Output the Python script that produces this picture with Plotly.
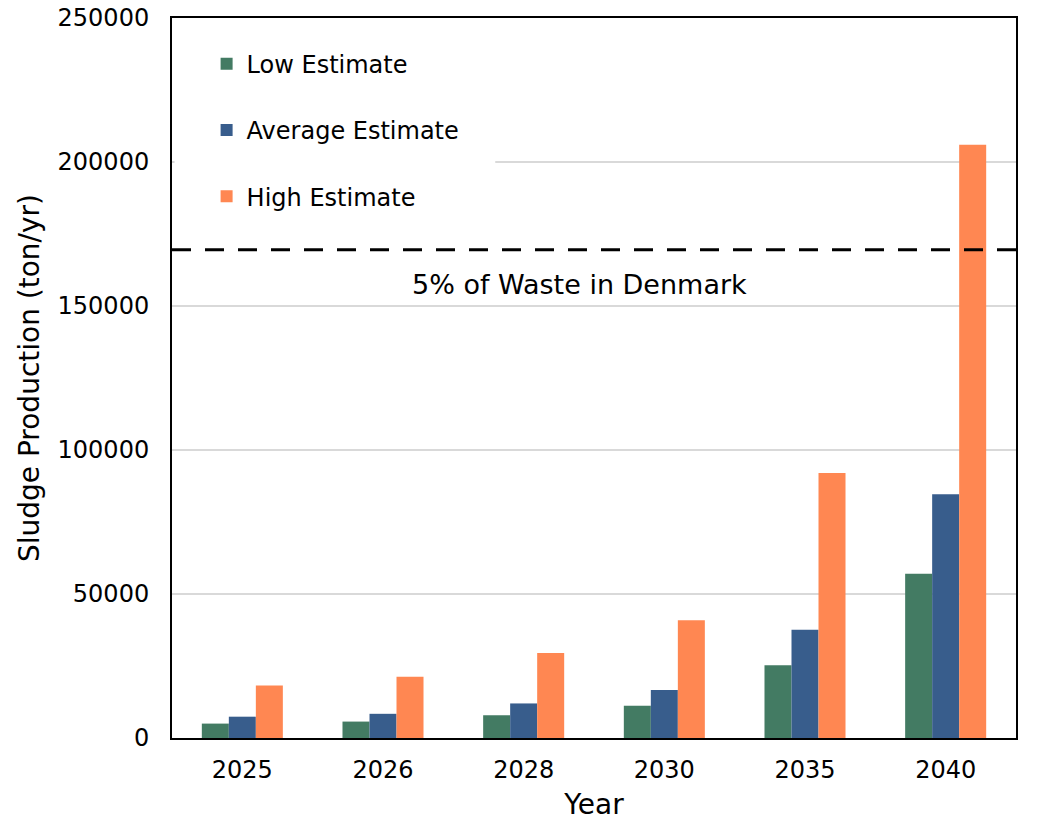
import plotly.graph_objects as go

# Projected sludge production per year (ton/yr)
years = ["2025", "2026", "2028", "2030", "2035", "2040"]
low_estimate = [5000, 5700, 7900, 11200, 25300, 57000]
average_estimate = [7400, 8400, 12000, 16700, 37600, 84600]
high_estimate = [18200, 21300, 29500, 40900, 92000, 206000]

# Reference level: 5% of total waste in Denmark
waste_5pct = 169500
waste_label = "5% of Waste in Denmark"

series = [
    ("Low Estimate", low_estimate, "#437B63"),
    ("Average Estimate", average_estimate, "#385D8C"),
    ("High Estimate", high_estimate, "#FF8752"),
]

FONT = "DejaVu Sans, Verdana, sans-serif"

fig = go.Figure()
for i, (name, vals, color) in enumerate(series):
    fig.add_trace(go.Bar(
        x=years, y=vals, name=name,
        marker=dict(color=color, line=dict(width=0)),
        legendgroup=f"g{i}",
    ))

# White backing panel of the legend box (hides the gridline under it)
fig.add_shape(
    type="rect", xref="x domain", yref="y",
    x0=0.003, x1=0.383, y0=190000, y1=235000,
    fillcolor="white", line=dict(width=0),
    layer="above",
)

fig.add_shape(
    type="line", xref="paper", yref="y",
    x0=0, x1=1, y0=waste_5pct, y1=waste_5pct,
    line=dict(color="black", width=3, dash="19px,14px"),
    layer="above",
)

fig.add_annotation(
    xref="paper", yref="y", x=0.483, y=157300,
    text=waste_label, showarrow=False,
    font=dict(family=FONT, size=27, color="black"),
)

fig.update_layout(
    width=1040, height=822,
    margin=dict(l=172, r=24, t=18, b=84, autoexpand=False),
    paper_bgcolor="white", plot_bgcolor="white",
    font=dict(family=FONT, size=24, color="black"),
    barmode="group", bargap=0.424, bargroupgap=0,
    showlegend=True,
    legend=dict(
        x=0.041, y=0.967, xanchor="left", yanchor="top",
        bgcolor="white", borderwidth=0,
        traceorder="grouped", tracegroupgap=32,
        font=dict(family=FONT, size=24, color="black"),
    ),
)

fig.update_xaxes(
    title=dict(text="Year", font=dict(size=28), standoff=12),
    showline=True, linecolor="black", linewidth=2, mirror=True,
    ticks="", ticklabelstandoff=9, automargin=False,
    tickfont=dict(size=24),
)
fig.update_yaxes(
    title=dict(text="Sludge Production (ton/yr)", font=dict(size=28), standoff=10),
    range=[0, 250000], dtick=50000, tickformat="d",
    showgrid=True, gridcolor="#d9d9d9", gridwidth=1.5,
    showline=True, linecolor="black", linewidth=2, mirror=True,
    zeroline=False, automargin=False,
    ticks="", ticklabelstandoff=16,
    tickfont=dict(size=24),
)

fig.write_html("out.html")
